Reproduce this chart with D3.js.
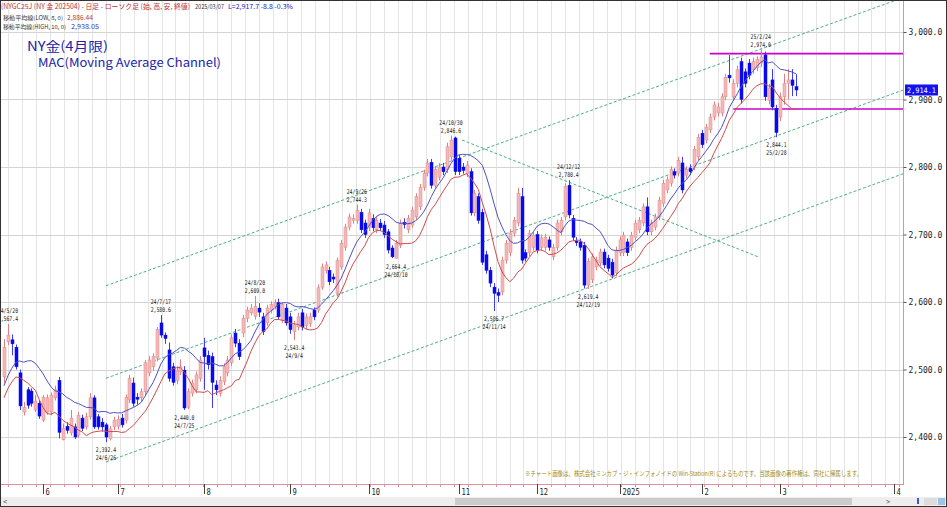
<!DOCTYPE html>
<html>
<head>
<meta charset="utf-8">
<script src="https://cdn.jsdelivr.net/npm/d3@7/dist/d3.min.js"></script>
<style>
  html, body { margin: 0; padding: 0; background: #fff; }
  svg { display: block; }
</style>
</head>
<body>
<div id="chart"></div>
<script>
// NY gold (Apr 2025 contract), daily candles 2024/5/17 - 2025/3/7
var firstDay = "2024-05-17", lastDay = "2025-03-07";
var holidays = ["2024-05-27", "2024-06-19", "2024-07-04", "2024-09-02", "2024-11-28",
                "2024-12-25", "2025-01-01", "2025-01-09"];

// [open, high, low, close]
var ohlc = [
  [2489,2545,2480,2533],[2541,2567.4,2536,2551],[2544,2552,2521,2538],[2533,2537,2500,2504],[2495,2500,2440,2446],
  [2437,2452,2432,2444],[2470,2474,2442,2447],[2468,2472,2445,2450],[2440,2462,2437,2453],[2450,2455,2427,2431],
  [2425,2462,2422,2459],[2437,2463,2433,2458],[2437,2466,2432,2462],[2458,2476,2454,2470],[2484,2489,2398,2407],
  [2396,2420,2395,2413],[2416,2422,2405,2410],[2406,2440,2402,2428],[2415,2420,2397,2400],[2403,2437,2399,2432],
  [2428,2433,2409,2413],[2415,2436,2411,2430],[2430,2465,2426,2458],[2458,2462,2412,2415],[2430,2434,2411,2415],
  [2422,2428,2408,2415],[2418,2421,2392.4,2400],[2398,2416,2395,2412],[2415,2430,2410,2425],[2416,2432,2411,2426],
  [2428,2434,2414,2418],[2425,2463,2420,2459],[2455,2492,2450,2487],[2480,2488,2445,2450],[2459,2465,2448,2456],
  [2458,2472,2453,2467],[2467,2514,2462,2510],[2495,2520,2490,2514],[2504,2524,2498,2519],[2517,2563,2512,2559],
  [2569,2580.6,2547,2551],[2551,2555,2538,2546],[2529,2540,2482,2487],[2504,2510,2476,2481],[2484,2505,2478,2499],
  [2497,2515,2492,2504],[2499,2505,2440,2443],[2444,2472,2441,2467],[2465,2485,2460,2480],[2470,2497,2465,2492],
  [2487,2520,2482,2514],[2532,2547,2470,2519],[2521,2528,2500,2507],[2519,2525,2443,2481],[2477,2484,2462,2470],
  [2465,2490,2460,2484],[2482,2509,2477,2504],[2495,2520,2490,2514],[2510,2552,2505,2547],[2554,2560,2533,2539],
  [2539,2545,2514,2519],[2554,2581,2548,2576],[2576,2593,2570,2588],[2584,2597,2580,2591],[2579,2609.0,2574,2593],
  [2591,2598,2578,2585],[2578,2584,2551,2556],[2569,2596,2565,2591],[2588,2601,2583,2596],[2593,2604,2589,2599],
  [2599,2605,2574,2578],[2573,2600,2569,2596],[2591,2597,2565,2569],[2578,2584,2553,2559],[2556,2572,2543.4,2566],
  [2563,2584,2558,2578],[2584,2590,2558,2563],[2565,2583,2560,2578],[2568,2584,2563,2578],[2588,2592,2573,2578],
  [2588,2626,2584,2621],[2622,2657,2618,2652],[2647,2660,2642,2655],[2647,2652,2625,2630],[2637,2642,2628,2634],
  [2613,2666,2608,2662],[2652,2692,2648,2687],[2681,2716,2676,2711],[2711,2731,2706,2726],[2721,2730,2716,2724],
  [2721,2744.3,2716,2736],[2733,2738,2702,2707],[2717,2722,2695,2700],[2711,2738,2705,2732],[2724,2730,2705,2710],
  [2707,2727,2702,2721],[2717,2723,2705,2710],[2714,2720,2695,2700],[2704,2708,2672,2677],[2680,2684,2665,2667],
  [2665,2692,2664.4,2687],[2684,2722,2680,2717],[2718,2724,2709,2715],[2707,2729,2702,2724],[2714,2741,2710,2736],
  [2726,2761,2722,2756],[2741,2775,2736,2770],[2770,2796,2765,2791],[2791,2812,2786,2806],[2807,2812,2768,2773],
  [2773,2801,2768,2796],[2785,2806,2780,2800],[2800,2806,2788,2793],[2796,2836,2791,2830],[2815,2846.6,2810,2840],
  [2843,2845,2788,2793],[2813,2818,2788,2793],[2800,2806,2790,2795],[2790,2809,2785,2803],[2793,2798,2728,2732],
  [2732,2766,2727,2761],[2756,2761,2716,2721],[2733,2738,2655,2659],[2670,2676,2642,2647],[2647,2652,2622,2628],
  [2622,2628,2586.7,2613],[2614,2620,2600,2610],[2615,2667,2610,2662],[2662,2692,2657,2687],[2673,2708,2668,2702],
  [2702,2726,2697,2721],[2717,2769,2712,2761],[2756,2769,2657,2662],[2673,2678,2660,2665],[2673,2707,2668,2702],
  [2681,2704,2676,2699],[2700,2705,2672,2677],[2681,2700,2676,2695],[2681,2701,2676,2696],[2692,2697,2676,2681],
  [2667,2686,2662,2681],[2681,2722,2676,2717],[2704,2726,2699,2721],[2726,2776,2721,2771],[2773,2780.4,2724,2729],
  [2724,2729,2691,2696],[2690,2696,2683,2688],[2689,2694,2676,2681],[2684,2689,2620,2625],[2625,2665,2619.4,2660],
  [2633,2672,2628,2667],[2652,2667,2647,2662],[2658,2679,2653,2674],[2674,2679,2650,2655],[2665,2670,2645,2650],
  [2659,2664,2635,2640],[2643,2682,2638,2677],[2673,2697,2668,2692],[2673,2704,2668,2699],[2689,2694,2668,2673],
  [2681,2704,2676,2699],[2696,2722,2691,2717],[2707,2726,2702,2721],[2717,2746,2712,2741],[2741,2755,2699,2704],
  [2704,2722,2699,2717],[2711,2731,2706,2726],[2726,2756,2721,2751],[2746,2781,2741,2776],[2766,2786,2761,2781],
  [2776,2801,2771,2796],[2793,2798,2783,2788],[2791,2815,2786,2810],[2806,2815,2761,2766],[2788,2801,2783,2796],
  [2798,2804,2788,2793],[2800,2831,2795,2826],[2815,2849,2810,2844],[2850,2855,2828,2833],[2840,2864,2835,2859],
  [2855,2879,2850,2874],[2874,2897,2869,2892],[2880,2895,2875,2889],[2880,2909,2875,2904],[2904,2938,2899,2933],
  [2936,2966,2925,2932],[2904,2930,2898,2924],[2924,2950,2918,2944],[2956,2962,2894,2900],[2941,2946,2918,2924],
  [2954,2960,2930,2936],[2944,2962,2938,2956],[2947,2964,2942,2959],[2954,2974.0,2948,2963],[2966,2971,2898,2904],
  [2899,2923,2893,2917],[2929,2945,2884,2889],[2887,2892,2844.1,2851],[2874,2910,2868,2904],[2904,2938,2892.4,2924],
  [2924,2945,2900,2929],[2929,2945,2905,2921],[2919,2937.5,2905,2914.1]
];

// highs / lows of the days before the window, only used to start the moving averages
var priorHighs = [2420, 2440, 2450, 2480, 2470, 2455, 2470, 2500, 2530];
var priorLows = [2425, 2445, 2440, 2450, 2460, 2475, 2490];

var peaks = [[1, "24/5/20", 2567.4], [40, "24/7/17", 2580.6], [64, "24/8/20", 2609.0], [90, "24/9/26", 2744.3],
             [114, "24/10/30", 2846.6], [144, "24/12/12", 2780.4], [193, "25/2/24", 2974.0]];
var troughs = [[26, "24/6/26", 2392.4], [46, "24/7/25", 2440.0], [74, "24/9/4", 2543.4], [100, "24/10/10", 2664.4],
               [125, "24/11/14", 2586.7], [149, "24/12/19", 2619.4], [197, "25/2/28", 2844.1]];

// channel lines: start bar, start price, slope per bar
var channels = [[26, 2624, 2.1], [26, 2487, 2.1], [26, 2363, 2.1]];
var downLine = [[116.8, 2840], [192.3, 2667]];
var boxLines = [[180, 2968], [186, 2886]];

var priceTicks = [2400, 2500, 2600, 2700, 2800, 2900, 3000];
var lastPrice = 2914.1;

var W = 947, H = 507;
var plotR = 903, plotB = 484;

// trading days
var fmt = d3.timeFormat("%Y-%m-%d");
var days = d3.timeDay.range(new Date(firstDay + "T00:00"), d3.timeDay.offset(new Date(lastDay + "T00:00"), 1))
  .filter(function(d) { return d.getDay() != 0 && d.getDay() != 6 && holidays.indexOf(fmt(d)) < 0; });

var data = ohlc.map(function(r, i) {
  return {i: i, date: days[i], o: r[0], h: r[1], l: r[2], c: r[3]};
});

var x = d3.scaleLinear().domain([0, data.length - 1]).range([4, 796]);
var y = d3.scaleLinear().domain([2400, 3000]).range([437, 32]);

// moving averages: HIGH 10 (blue), LOW 8 (red)
var allHighs = priorHighs.concat(data.map(function(d) { return d.h; }));
var allLows = priorLows.concat(data.map(function(d) { return d.l; }));
var maHigh = data.map(function(d, i) {
  var k = i + priorHighs.length;
  return {i: i, v: d3.mean(allHighs.slice(Math.max(0, k - 9), k + 1))};
});
var maLow = data.map(function(d, i) {
  var k = i + priorLows.length;
  return {i: i, v: d3.mean(allLows.slice(Math.max(0, k - 7), k + 1))};
});

var svg = d3.select("#chart").append("svg")
  .attr("width", W)
  .attr("height", H)
  .style("font-family", "'DejaVu Sans Mono', monospace");

svg.append("rect").attr("width", W).attr("height", H).attr("fill", "#fff");

svg.append("clipPath").attr("id", "plotclip")
  .append("rect").attr("x", 0).attr("y", 0).attr("width", plotR).attr("height", plotB);

var grid = svg.append("g");
// vertical grid
for (var gx = 8.4; gx < plotR; gx += 13.92) {
  grid.append("line")
    .attr("x1", Math.round(gx) + 0.5).attr("x2", Math.round(gx) + 0.5)
    .attr("y1", 0).attr("y2", plotB)
    .attr("stroke", "#e4e4e4").attr("stroke-width", 1);
}
grid.selectAll("line.h")
  .data(priceTicks)
  .enter().append("line")
  .attr("class", "h")
  .attr("x1", 0).attr("x2", plotR)
  .attr("y1", function(d) { return Math.round(y(d)) + 0.5; })
  .attr("y2", function(d) { return Math.round(y(d)) + 0.5; })
  .attr("stroke", "#d4d4d4").attr("stroke-width", 1);

var plot = svg.append("g").attr("clip-path", "url(#plotclip)");

// channel lines
var lineEnd = 232;
var chanData = channels.map(function(c) {
  return [[c[0], c[1]], [lineEnd, c[1] + c[2] * (lineEnd - c[0])]];
}).concat([downLine]);
plot.selectAll("line.chan")
  .data(chanData)
  .enter().append("line")
  .attr("class", "chan")
  .attr("x1", function(d) { return x(d[0][0]); })
  .attr("y1", function(d) { return y(d[0][1]); })
  .attr("x2", function(d) { return x(d[1][0]); })
  .attr("y2", function(d) { return y(d[1][1]); })
  .attr("stroke", "#4fae85")
  .attr("stroke-width", 1)
  .attr("stroke-dasharray", "3,2");

// magenta box lines
plot.selectAll("line.box")
  .data(boxLines)
  .enter().append("line")
  .attr("x1", function(d) { return x(d[0]); })
  .attr("x2", plotR)
  .attr("y1", function(d) { return y(d[1]); })
  .attr("y2", function(d) { return y(d[1]); })
  .attr("stroke", "#cc00cc")
  .attr("stroke-width", 1.6);

// candles
var bw = 3;
var candle = plot.selectAll("g.candle")
  .data(data)
  .enter().append("g")
  .attr("class", "candle");

candle.append("line")
  .attr("x1", function(d) { return Math.round(x(d.i)) + 0.5; })
  .attr("x2", function(d) { return Math.round(x(d.i)) + 0.5; })
  .attr("y1", function(d) { return y(d.h); })
  .attr("y2", function(d) { return y(d.l); })
  .attr("stroke", function(d) { return d.c >= d.o ? "#e07f7f" : "#3c3cf0"; })
  .attr("stroke-width", 1);

candle.append("rect")
  .attr("x", function(d) { return Math.round(x(d.i)) + 0.5 - bw / 2; })
  .attr("y", function(d) { return y(Math.max(d.o, d.c)); })
  .attr("width", bw)
  .attr("height", function(d) { return Math.max(1, Math.abs(y(d.o) - y(d.c))); })
  .attr("fill", function(d) { return d.c >= d.o ? "#f4b8b8" : "#0a0aee"; })
  .attr("stroke", function(d) { return d.c >= d.o ? "#e08a8a" : "#0a0aee"; })
  .attr("stroke-width", 0.5);

// moving averages
var maLine = d3.line()
  .x(function(d) { return x(d.i); })
  .y(function(d) { return y(d.v); });

plot.append("path").datum(maLow)
  .attr("d", maLine)
  .attr("fill", "none")
  .attr("stroke", "#d24a4a")
  .attr("stroke-width", 1);

plot.append("path").datum(maHigh)
  .attr("d", maLine)
  .attr("fill", "none")
  .attr("stroke", "#5050c4")
  .attr("stroke-width", 1);

// high / low annotations
var pf = d3.format(",.1f");
var ann = plot.append("g")
  .attr("font-size", "6.5px")
  .attr("fill", "#222")
  .attr("text-anchor", "middle");

function addLabel(txt, cx, by) {
  ann.append("text")
    .attr("x", cx).attr("y", by)
    .attr("textLength", txt.length * 2.9)
    .attr("lengthAdjust", "spacingAndGlyphs")
    .text(txt);
}
peaks.forEach(function(p) {
  var cx = x(p[0]), hy = y(p[2]);
  addLabel(p[1], cx, hy - 11);
  addLabel(pf(p[2]), cx, hy - 3);
});
troughs.forEach(function(p) {
  var cx = x(p[0]), ly = y(p[2]);
  addLabel(pf(p[2]), cx, ly + 10);
  addLabel(p[1], cx, ly + 18);
});

// frame lines
svg.append("line")
  .attr("x1", plotR + 0.5).attr("x2", plotR + 0.5)
  .attr("y1", 0).attr("y2", plotB)
  .attr("stroke", "#e0909c").attr("stroke-width", 1);
svg.append("line")
  .attr("x1", 0).attr("x2", plotR + 1)
  .attr("y1", plotB + 0.5).attr("y2", plotB + 0.5)
  .attr("stroke", "#e0909c").attr("stroke-width", 1);

// right price axis
var yAxis = d3.axisRight(y)
  .tickValues(priceTicks)
  .tickSize(3)
  .tickPadding(2)
  .tickFormat(d3.format(",.1f"));
var ya = svg.append("g")
  .attr("transform", "translate(" + (plotR + 0.5) + ",0)")
  .call(yAxis);
ya.select(".domain").remove();
ya.selectAll("line").attr("stroke", "#555");
ya.selectAll("text")
  .attr("font-size", "8px")
  .attr("fill", "#222")
  .attr("font-family", "'DejaVu Sans Mono', monospace");

// last price box
var lg = svg.append("g").attr("transform", "translate(905," + y(lastPrice) + ")");
lg.append("rect").attr("x", 0).attr("y", -5.5).attr("width", 33).attr("height", 11).attr("fill", "#1212f0");
lg.append("text").attr("x", 2).attr("y", 3)
  .attr("font-size", "7.5px").attr("fill", "#fff")
  .attr("textLength", 29).attr("lengthAdjust", "spacingAndGlyphs")
  .text(pf(lastPrice));

// bottom time axis
for (var tx = 8.4; tx < plotR; tx += 13.92) {
  svg.append("line")
    .attr("x1", Math.round(tx) + 0.5).attr("x2", Math.round(tx) + 0.5)
    .attr("y1", plotB).attr("y2", plotB + 3)
    .attr("stroke", "#e0909c");
}
var monthStarts = [];
data.forEach(function(d, i) {
  if (i > 0 && d.date.getMonth() != data[i - 1].date.getMonth()) monthStarts.push(d);
});
var monthTicks = monthStarts.map(function(d) {
  return {i: d.i, label: d.date.getMonth() == 0 ? String(d.date.getFullYear()) : String(d.date.getMonth() + 1)};
});
// next month in the empty space on the right, spaced by calendar days
var nextMonth = d3.timeMonth.offset(d3.timeMonth.floor(data[data.length - 1].date), 1);
monthTicks.push({i: data.length - 1 + d3.timeDay.count(data[data.length - 1].date, nextMonth),
                 label: String(nextMonth.getMonth() + 1)});

var xa = svg.append("g");
monthTicks.forEach(function(m) {
  var mx = Math.round(x(m.i)) + 0.5;
  xa.append("line").attr("x1", mx).attr("x2", mx).attr("y1", plotB).attr("y2", plotB + 10)
    .attr("stroke", "#444").attr("stroke-width", 1);
  xa.append("text").attr("x", mx + 2).attr("y", plotB + 11)
    .attr("font-size", "9px").attr("fill", "#222")
    .attr("textLength", m.label.length * 4.3).attr("lengthAdjust", "spacingAndGlyphs")
    .text(m.label);
});

// scroll bar strip
var sb = svg.append("g").attr("transform", "translate(0,497)");
sb.append("rect").attr("x", 0).attr("y", 0).attr("width", W).attr("height", 9).attr("fill", "#eeeeee");
sb.append("rect").attr("x", 455).attr("y", 1).attr("width", 397).attr("height", 7).attr("fill", "#cbcbcb");
sb.append("text").attr("x", 3).attr("y", 7).attr("font-size", "7px").attr("fill", "#555").text("<");
sb.append("text").attr("x", 886).attr("y", 7).attr("font-size", "7px").attr("fill", "#555").text(">");
sb.append("rect").attr("x", 917).attr("y", 1).attr("width", 2).attr("height", 6).attr("fill", "#3060d0");
sb.append("rect").attr("x", 924).attr("y", 1).attr("width", 13).attr("height", 7).attr("fill", "#dcdcdc");
sb.append("rect").attr("x", 938).attr("y", 1).attr("width", 7).attr("height", 7).attr("fill", "#9cc4e4");

// header
var jp = "'Noto Sans CJK JP', 'Noto Sans', sans-serif";
var hdr = svg.append("g").attr("font-family", jp);
function hText(txt, tx, ty, len, color, fs) {
  hdr.append("text").attr("x", tx).attr("y", ty)
    .attr("font-size", fs + "px")
    .attr("textLength", len).attr("lengthAdjust", "spacingAndGlyphs")
    .attr("fill", color).text(txt);
}
hText("(NYGC25J (NY 金 202504) - 日足 - ローソク足 (始, 高, 安, 終値)", 1, 9, 189, "#c03030", 7);
hText("2025/03/07", 195, 9, 29, "#333", 6);
hText("L=2,917.7  -8.8  -0.3%", 228, 9, 65, "#2020c0", 6.5);
hText("移動平均線(LOW, 8, 0)", 3, 19.5, 60, "#333", 5.5);
hText(d3.format(",.2f")(maLow[maLow.length - 1].v), 67, 19.5, 26, "#b03a3a", 6);
hText("移動平均線(HIGH, 10, 0)", 3, 28.5, 63, "#333", 5.5);
hText(d3.format(",.2f")(maHigh[maHigh.length - 1].v), 71, 28.5, 28, "#3a3ab0", 6);

// title
svg.append("text").attr("x", 27).attr("y", 51)
  .attr("font-family", jp).attr("font-size", "13px").attr("fill", "#2323a6")
  .attr("textLength", 81).attr("lengthAdjust", "spacingAndGlyphs")
  .text("NY金(4月限)");
svg.append("text").attr("x", 38).attr("y", 67)
  .attr("font-family", jp).attr("font-size", "12px").attr("fill", "#2323a6")
  .attr("textLength", 183).attr("lengthAdjust", "spacingAndGlyphs")
  .text("MAC(Moving Average Channel)");

// source note
svg.append("text").attr("x", 525).attr("y", 476)
  .attr("font-family", jp).attr("font-size", "6.5px").attr("fill", "#a08a1a")
  .attr("textLength", 337).attr("lengthAdjust", "spacingAndGlyphs")
  .text("※チャート画像は、株式会社ミンカブ・ジ・インフォノイドの Win-Station(R) によるものです。当該画像の著作権は、同社に帰属します。");

// outer border
svg.append("rect").attr("x", 0.5).attr("y", 0.5).attr("width", W - 1).attr("height", H - 1)
  .attr("fill", "none").attr("stroke", "#333").attr("stroke-width", 1);
</script>
</body>
</html>
